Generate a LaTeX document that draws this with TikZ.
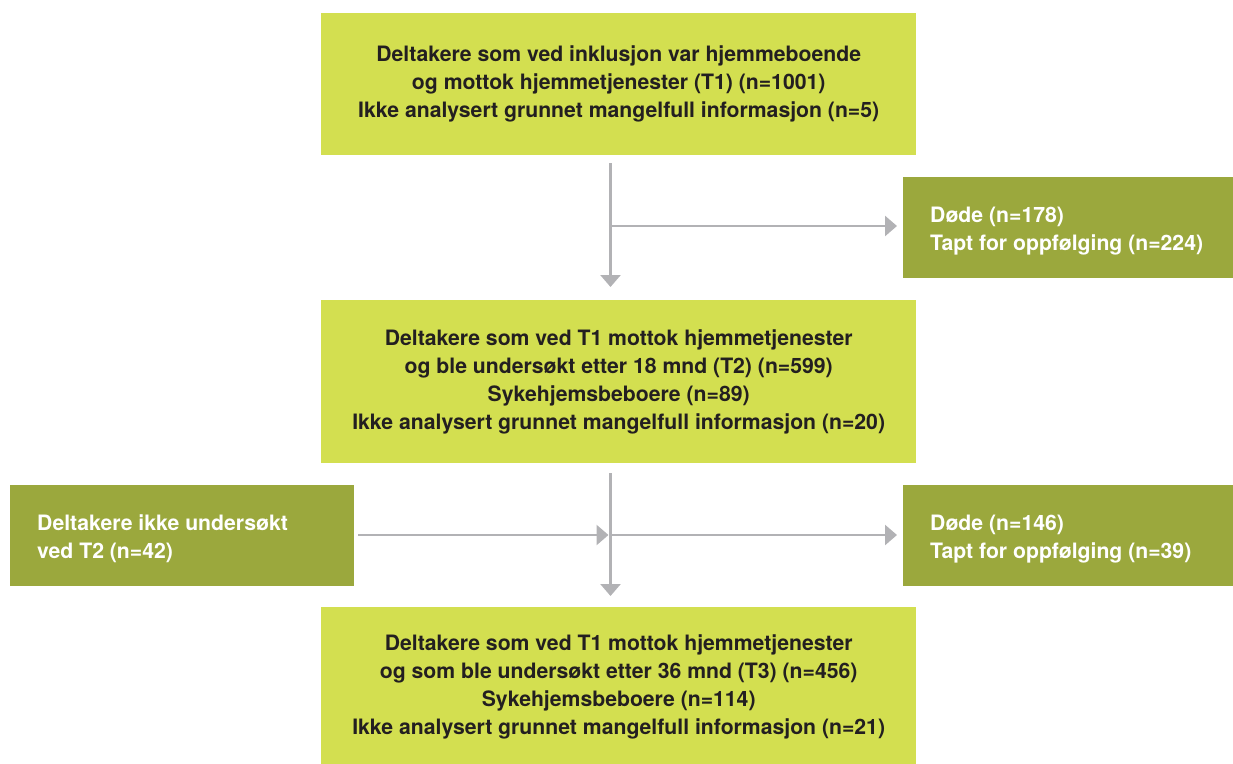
\documentclass[tikz,border=0pt]{standalone}
\usepackage{fontspec}
\setmainfont{TeX Gyre Heros}
\usetikzlibrary{arrows.meta}
\definecolor{lightgr}{HTML}{D3DF50}
\definecolor{olive}{HTML}{9BA83D}
\definecolor{txtdark}{HTML}{231F20}
\definecolor{arrgray}{HTML}{B2B2B5}
\tikzset{
  mainbox/.style={fill=lightgr, draw=none, anchor=north west, align=center,
    text=txtdark, font=\fontsize{21.2pt}{28pt}\selectfont\bfseries, inner sep=0pt},
  sidebox/.style={fill=olive, draw=none, anchor=north west, inner sep=0pt},
  sidetext/.style={anchor=west, align=left, text=white,
    font=\fontsize{21.2pt}{28pt}\selectfont\bfseries, inner sep=0pt},
  conn/.style={draw=arrgray, line width=2.6pt},
  arr/.style={conn, -{Triangle[length=12pt,width=20pt]}}
}
\begin{document}
\begin{tikzpicture}[x=1pt,y=-1pt]
\useasboundingbox (0,0) rectangle (1233,763);
\node[mainbox, minimum width=595pt, minimum height=142pt] (t) at (321,13)
  {Deltakere som ved inklusjon var hjemmeboende\\og mottok hjemmetjenester (T1) (n=1001)\\Ikke analysert grunnet mangelfull informasjon (n=5)};
\node[sidebox, minimum width=330pt, minimum height=101pt] (r1) at (903,177) {};
\node[sidetext] (r1t) at ([xshift=27pt,yshift=-3pt]r1.west)
  {Døde (n=178)\\Tapt for oppfølging (n=224)};
\node[mainbox, minimum width=595pt, minimum height=163pt] (m) at (321,300)
  {Deltakere som ved T1 mottok hjemmetjenester\\og ble undersøkt etter 18 mnd (T2) (n=599)\\Sykehjemsbeboere (n=89)\\Ikke analysert grunnet mangelfull informasjon (n=20)};
\node[sidebox, minimum width=344pt, minimum height=101pt] (l2) at (10,485) {};
\node[sidetext] (l2t) at ([xshift=27pt,yshift=-3pt]l2.west)
  {Deltakere ikke undersøkt\\ved T2 (n=42)};
\node[sidebox, minimum width=330pt, minimum height=101pt] (r2) at (903,485) {};
\node[sidetext] (r2t) at ([xshift=27pt,yshift=-3pt]r2.west)
  {Døde (n=146)\\Tapt for oppfølging (n=39)};
\node[mainbox, minimum width=595pt, minimum height=160pt] (b) at (321,607)
  {Deltakere som ved T1 mottok hjemmetjenester\\og som ble undersøkt etter 36 mnd (T3) (n=456)\\Sykehjemsbeboere (n=114)\\Ikke analysert grunnet mangelfull informasjon (n=21)};
\coordinate (j1) at (610.5,226);
\coordinate (j2) at (610.5,535);
\draw[arr] ([yshift=-8pt]t.south -| j1) -- ([yshift=13pt]m.north -| j1);
\draw[arr] (j1) -- ([xshift=-6pt]r1.west |- j1);
\draw[arr] ([yshift=-10pt]m.south -| j2) -- ([yshift=11pt]b.north -| j2);
\draw[arr] ([xshift=4pt]l2.east |- j2) -- ([xshift=-2pt]j2);
\draw[arr] (j2) -- ([xshift=-6pt]r2.west |- j2);
\end{tikzpicture}
\end{document}
